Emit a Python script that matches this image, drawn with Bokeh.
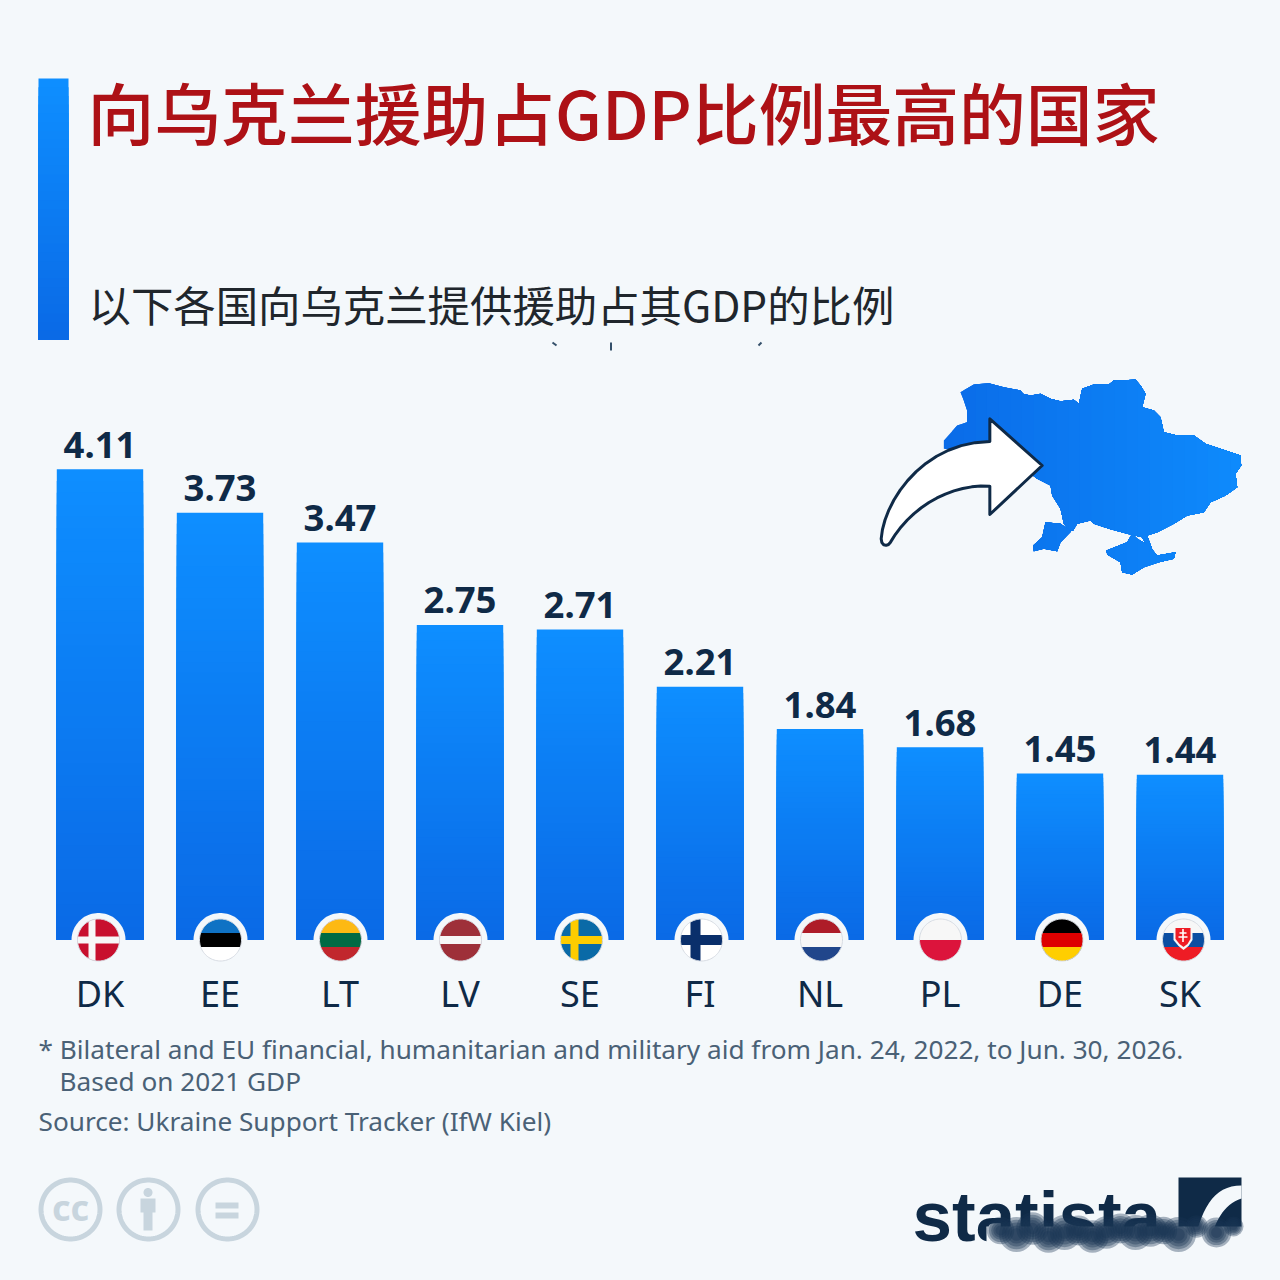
import numpy as np
from bokeh.plotting import figure
from bokeh.layouts import column
from bokeh.models import FactorRange, Range1d
from bokeh.core.properties import value
from bokeh.embed import file_html
from bokeh.resources import INLINE

categories = ["DK", "EE", "LT", "LV", "SE", "FI", "NL", "PL", "DE", "SK"]
values = [4.11, 3.73, 3.47, 2.75, 2.71, 2.21, 1.84, 1.68, 1.45, 1.44]
value_labels = ["4.11", "3.73", "3.47", "2.75", "2.71", "2.21", "1.84", "1.68", "1.45", "1.44"]
title = "向乌克兰援助占GDP比例最高的国家"
subtitle = "以下各国向乌克兰提供援助占其GDP的比例"
notes = ["* Bilateral and EU financial, humanitarian and military aid from Jan. 24, 2022, to Jun. 30, 2026.",
         "Based on 2021 GDP",
         "Source: Ukraine Support Tracker (IfW Kiel)"]

BG = "#f4f8fb"
NAVY = "#0f2a47"
TOP_C = np.array([14, 142, 255])
BOT_C = np.array([10, 106, 230])
CJK = "Noto Sans CJK SC"
SPLIT = 1020
BASE = 939      # pixel row of the bars' baseline
PXU = 114.4     # pixels per percentage point
FRAME_B = 962

def mix(t, a=TOP_C, b=BOT_C):
    c = a + (b - a) * t
    return "#%02x%02x%02x" % tuple(int(round(v)) for v in c)

def clip(poly, axis, lim, keep_less):
    out = []
    n = len(poly)
    for i in range(n):
        a, b = poly[i], poly[(i + 1) % n]
        ina = (a[axis] <= lim) if keep_less else (a[axis] >= lim)
        inb = (b[axis] <= lim) if keep_less else (b[axis] >= lim)
        if ina:
            out.append(a)
        if ina != inb:
            t = (lim - a[axis]) / (b[axis] - a[axis])
            out.append((a[0] + t * (b[0] - a[0]), a[1] + t * (b[1] - a[1])))
    return out

def clip_rect(poly, x0, y0, x1, y1):
    for axis, lim, less in ((0, x0, False), (0, x1, True), (1, y0, False), (1, y1, True)):
        if poly:
            poly = clip(poly, axis, lim, less)
    return poly

def bez(p0, p1, p2, p3, n=14):
    t = np.linspace(0, 1, n)[:, None]
    p0, p1, p2, p3 = map(np.array, (p0, p1, p2, p3))
    return ((1-t)**3*p0 + 3*(1-t)**2*t*p1 + 3*(1-t)*t**2*p2 + t**3*p3).tolist()

# ---------------------------------------------------------------- main figure
x_range = FactorRange(factors=categories, factor_padding=0, range_padding=(1249 / 120 - 10) / 10,
                      range_padding_units="percent")
y_range = Range1d((BASE - FRAME_B) / PXU, BASE / PXU)
p = figure(width=1264, height=SPLIT, x_range=x_range, y_range=y_range,
           output_backend="svg", toolbar_location=None,
           min_border_left=15, min_border_right=0, min_border_top=0, min_border_bottom=SPLIT - FRAME_B,
           background_fill_color=BG, border_fill_color=BG, outline_line_color=None,
           x_axis_location="below", y_axis_location=None)
p.grid.visible = False
p.extra_y_ranges["px"] = Range1d(FRAME_B, 0)
ax = p.xaxis[0]
ax.axis_line_color = None
ax.major_tick_line_color = None
ax.minor_tick_line_color = None
ax.major_label_text_font = "Noto Sans"
ax.major_label_text_font_size = "36px"
ax.major_label_text_color = NAVY
ax.major_label_standoff = 0

q = figure(width=1264, height=1264 - SPLIT, x_range=Range1d(15, 1264), y_range=Range1d(1264, SPLIT),
           output_backend="svg", toolbar_location=None, min_border=0, min_border_left=15,
           background_fill_color=BG, border_fill_color=BG, outline_line_color=None,
           x_axis_location=None, y_axis_location=None)
q.grid.visible = False

def X(f, xs):
    # the main figure's x scale is categorical: page pixels become synthetic factor coordinates
    if f is p:
        return [(v - 15) / 120 - (1249 / 240 - 5) for v in xs]
    return list(xs)

def KW(f):
    return {"y_range_name": "px"} if f is p else {}

def px_patch(f, pts, color):
    f.patch(X(f, [a[0] for a in pts]), [a[1] for a in pts], fill_color=color, line_color=None, **KW(f))

def px_line(f, pts, color, width):
    f.line(X(f, [a[0] for a in pts]), [a[1] for a in pts], line_color=color, line_width=width, **KW(f))

def px_text(f, x, y, s, size, color, font="Noto Sans", style="normal", align="left", baseline="middle"):
    f.text(x=X(f, [x]), y=[y], text=[s], text_font=value(font), text_font_size=f"{size}px",
           text_color=color, text_font_style=style, text_align=align, text_baseline=baseline, **KW(f))

# title block
N = 30
for k in range(N):
    y0 = 78 + (339 - 78) * k / N
    px_patch(p, [(38, y0), (68, y0), (68, 339), (38, 339)], mix(k / (N - 1)))
px_text(p, 87, 110, title, 66.8, "#ad1116", font="Noto Sans CJK SC Medium")
px_text(p, 88, 302.5, subtitle, 42.4, "#20262c", font=CJK)
for a, b in (((552, 342), (556, 345)), ((610.5, 342), (610.5, 350)), ((761, 342), (758, 345))):
    px_line(p, [a, b], "#34506a", 2)

# bars, with a vertical gradient built from overlapping bars
p.vbar(x=categories, top=values, bottom=0, width=0.72, fill_color=mix(0), line_color=None)
cats_a, tops_a, cols_a = [], [], []
for k in range(1, 40):
    f = 1 - k / 40
    for c, v in zip(categories, values):
        cats_a.append(c); tops_a.append(v * f); cols_a.append(mix(k / 39))
p.vbar(x=cats_a, top=tops_a, bottom=0, width=0.72, fill_color=cols_a, line_color=None)

p.text(x=categories, y=values, text=value_labels, text_font=value("Noto Sans"),
       text_font_size="36.5px", text_font_style="bold", text_color=NAVY,
       text_align="center", text_baseline="alphabetic", y_offset=-24.5)

# flags
flag_x = [98, 220, 340, 460, 581, 701, 821, 940, 1061.5, 1183]
FY = 939.5
R = 21
t = np.linspace(0, 2 * np.pi, 90, endpoint=False)
def circle(cx, cy, r):
    return list(zip(cx + r * np.cos(t), cy + r * np.sin(t)))

flags = {
 "DK": ["#c8102e", [(-10, -30, -3, 30, "#f7f7f7"), (-30, -3.5, 30, 3.5, "#f7f7f7")]],
 "EE": ["#ffffff", [(-30, -30, 30, -7, "#0f72c4"), (-30, -7, 30, 7, "#000000")]],
 "LT": ["#c1272d", [(-30, -30, 30, -7, "#fdb913"), (-30, -7, 30, 7, "#006a44")]],
 "LV": ["#9e3039", [(-30, -4, 30, 4, "#f7f7f7")]],
 "SE": ["#0a6aa7", [(-11, -30, -3, 30, "#fecc00"), (-30, -4, 30, 4, "#fecc00")]],
 "FI": ["#ffffff", [(-11, -30, -1, 30, "#0a2f6b"), (-30, -5, 30, 5, "#0a2f6b")]],
 "NL": ["#f7f7f7", [(-30, -30, 30, -7, "#ae1c28"), (-30, 7, 30, 30, "#21468b")]],
 "PL": ["#f7f7f7", [(-30, 0, 30, 30, "#dc143c")]],
 "DE": ["#000000", [(-30, -7, 30, 7, "#dd0000"), (-30, 7, 30, 30, "#ffce00")]],
 "SK": ["#f7f7f7", [(-30, -7, 30, 7, "#0b4ea2"), (-30, 7, 30, 30, "#ee1c25")]],
}
for c, cx in zip(categories, flag_x):
    px_patch(p, circle(cx, FY, R + 6), BG)
    base, rects = flags[c]
    disc = circle(cx, FY, R)
    px_patch(p, disc, base)
    for x0, y0, x1, y1, col in rects:
        px_patch(p, clip_rect(disc, cx + x0, FY + y0, cx + x1, FY + y1), col)
    px_line(p, disc + [disc[0]], "#d6dbe2", 1)
# Slovak shield
cx = flag_x[9]
shield = [(cx-10, FY-14), (cx+9, FY-14), (cx+9, FY), (cx+5, FY+6), (cx, FY+10), (cx-5, FY+6), (cx-10, FY)]
px_patch(p, shield, "#f7f7f7")
inner = [(cx-8, FY-12), (cx+7, FY-12), (cx+7, FY-1), (cx+4, FY+4), (cx, FY+7), (cx-4, FY+4), (cx-8, FY-1)]
px_patch(p, inner, "#ee1c25")
for a, b in (((cx-0.5, FY-11), (cx-0.5, FY+2)), ((cx-4, FY-7), (cx+3, FY-7)), ((cx-5, FY-3), (cx+4, FY-3))):
    px_line(p, [a, b], "#ffffff", 1.6)

# Ukraine map
def zm(pts):
    return [(860 + a / 3, 360 + b / 3) for a, b in pts]
main = zm([(300,95),(318,85),(340,72),(385,68),(430,80),(480,90),(488,100),(510,105),(540,100),(570,115),(600,122),
           (640,118),(655,130),(665,85),(700,72),(745,72),(760,60),(825,58),(840,75),(855,100),(845,140),(880,150),
           (900,170),(910,215),(950,225),(1000,225),(1035,250),(1080,265),(1140,285),(1142,315),(1125,340),(1130,380),
           (1095,405),(1050,425),(1030,455),(980,465),(940,490),(890,515),(860,525),(880,580),(870,578),(845,530),
           (800,520),(745,505),(700,490),(690,480),(650,490),(638,510),(625,510),(610,490),(600,445),(575,405),
           (570,375),(530,355),(510,340),(470,300),(250,265),(250,240),(290,195),(320,185),(320,150),(310,120)])
odesa = zm([(555,485),(600,490),(632,512),(600,545),(590,572),(550,565),(520,572),(518,555),(545,530)])
crimea = zm([(738,570),(800,545),(815,520),(830,535),(865,555),(890,585),(945,575),(940,595),(895,605),(850,620),
             (815,642),(785,635),(780,605),(740,582)])
M_L = np.array([10, 108, 232]); M_R = np.array([14, 138, 252])
for k in range(26):
    xk = 940 + (1242 - 940) * k / 26
    col = mix(k / 25, M_L, M_R)
    for shape in (main, odesa, crimea):
        pts = clip(shape, 0, xk, False)
        if pts:
            px_patch(p, pts, col)

# arrow
arrow = []
arrow += bez((62,535),(70,420),(190,245),(388,243))
arrow += [(388,175),(545,315),(388,462)]
arrow += bez((388,377),(270,370),(150,440),(90,545))
arrow += bez((90,545),(82,560),(62,558),(62,535),6)
arrow = zm(arrow)
p.patch(X(p, [a[0] for a in arrow]), [a[1] for a in arrow], fill_color="#ffffff", line_color=NAVY, line_width=3,
        line_join="round", y_range_name="px")

# ---------------------------------------------------------------- footer
NOTE = "#4a6176"
px_text(q, 38, 1048.5, notes[0], 26.2, NOTE)
px_text(q, 59, 1080.5, notes[1], 26.2, NOTE)
px_text(q, 38, 1120.5, notes[2], 26.2, NOTE)

# licence icons
ICON = "#c8d5de"
for cx in (70, 148, 227):
    ring = circle(cx, 1209, 29.5)
    px_line(q, ring + [ring[0]], ICON, 5)
px_text(q, 70, 1207, "cc", 36, ICON, style="bold", align="center")
px_patch(q, circle(147.5, 1192, 4.5), ICON)
px_patch(q, [(140,1198),(155,1198),(155,1212),(152,1212),(152,1230),(143,1230),(143,1212),(140,1212)], ICON)
px_patch(q, [(215,1202),(238,1202),(238,1208),(215,1208)], ICON)
px_patch(q, [(215,1212),(238,1212),(238,1218),(215,1218)], ICON)

# logo
px_text(q, 912, 1216, "statista", 71, NAVY, font="Liberation Sans", style="bold", baseline="alphabetic")
px_patch(q, [(1178,1177),(1241,1177),(1241,1240),(1178,1240)], NAVY)
swoosh = bez((1241,1185),(1218,1185),(1205,1200),(1196,1232)) + bez((1212,1232),(1218,1215),(1226,1203),(1241,1198))
px_patch(q, swoosh, BG)

# smudged watermark over the logo
px_patch(q, [(986,1226),(1250,1226),(1250,1256),(986,1256)], BG)
wx = [1000, 1016, 1032, 1048, 1064, 1078, 1092, 1106, 1120, 1135, 1150, 1163, 1178, 1196, 1216, 1233]
wy = [1230, 1234, 1228, 1236, 1232, 1230, 1236, 1232, 1228, 1232, 1230, 1230, 1234, 1226, 1232, 1226]
wr = [11, 14, 13, 13, 14, 12, 13, 13, 12, 14, 13, 11, 14, 9, 12, 8]
for scale in (1.25, 1.05, 0.85, 0.65, 0.45):
    q.circle(x=wx, y=wy, radius=[v * scale for v in wr], fill_color="#1a3552", fill_alpha=0.36, line_color=None)

layout = column(p, q, spacing=0)
html = file_html(layout, INLINE)
html = html.replace("</head>", f"<style>html,body{{background:{BG};}}</style></head>", 1)
open("out.html", "w").write(html)
